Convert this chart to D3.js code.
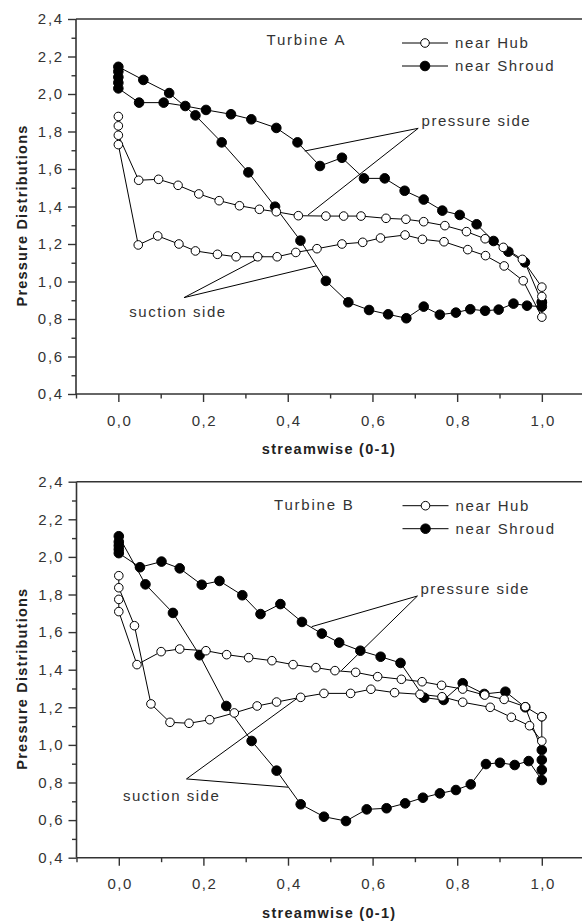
<!DOCTYPE html>
<html><head><meta charset="utf-8">
<script src="https://cdn.jsdelivr.net/npm/d3@7"></script>
<style>
html,body{margin:0;padding:0;background:#fff;}
svg{display:block;font-family:"Liberation Sans",Arial,sans-serif;}
</style></head>
<body><svg id="c" width="582" height="921"></svg>
<script>
// ---------- data (streamwise position, pressure) ----------
const xTicks = [0, 0.2, 0.4, 0.6, 0.8, 1.0];
const yTicks = [0.4, 0.6, 0.8, 1.0, 1.2, 1.4, 1.6, 1.8, 2.0, 2.2, 2.4];
const seriesNames = ["near Hub", "near Shroud"];
const xTitle = "streamwise (0-1)";
const yTitle = "Pressure Distributions";
const turbineNames = ["Turbine A", "Turbine B"];

// Turbine A
const hubPressureA = [[0,1.88],[0,1.83],[0,1.78],[0.048,1.54],[0.095,1.545],[0.141,1.513],[0.19,1.467],[0.238,1.431],[0.286,1.404],[0.333,1.385],[0.373,1.372],[0.425,1.351],[0.49,1.349],[0.532,1.349],[0.573,1.349],[0.632,1.337],[0.679,1.332],[0.721,1.319],[0.771,1.298],[0.822,1.266],[0.866,1.228],[0.909,1.182],[0.954,1.118],[1.0,0.97]];
const hubSuctionA = [[0,1.73],[0.047,1.195],[0.093,1.243],[0.143,1.2],[0.182,1.163],[0.234,1.145],[0.278,1.132],[0.329,1.132],[0.375,1.132],[0.419,1.155],[0.469,1.175],[0.528,1.2],[0.577,1.209],[0.619,1.232],[0.677,1.248],[0.718,1.225],[0.769,1.212],[0.825,1.17],[0.867,1.138],[0.911,1.083],[0.956,1.004],[1.0,0.81],[1.0,0.92]];
const shroudPressureA = [[0,2.03],[0.049,1.954],[0.107,1.954],[0.158,1.936],[0.207,1.915],[0.266,1.892],[0.314,1.865],[0.373,1.819],[0.423,1.742],[0.476,1.616],[0.528,1.66],[0.58,1.55],[0.629,1.55],[0.676,1.484],[0.721,1.437],[0.765,1.378],[0.806,1.355],[0.846,1.305],[0.886,1.216],[0.921,1.159],[0.96,1.102],[1.0,0.89]];
const shroudSuctionA = [[0,2.06],[0,2.09],[0,2.12],[0,2.145],[0.059,2.075],[0.12,2.005],[0.182,1.886],[0.244,1.742],[0.307,1.582],[0.37,1.399],[0.43,1.218],[0.49,1.003],[0.543,0.889],[0.592,0.848],[0.637,0.825],[0.68,0.804],[0.721,0.866],[0.759,0.823],[0.797,0.834],[0.831,0.852],[0.866,0.844],[0.898,0.85],[0.933,0.882],[0.965,0.871],[1.0,0.866],[1.0,0.89]];

// Turbine B
const hubPressureB = [[0,1.774],[0,1.709],[0.043,1.427],[0.10,1.496],[0.144,1.51],[0.206,1.501],[0.255,1.48],[0.307,1.464],[0.362,1.448],[0.412,1.427],[0.466,1.411],[0.511,1.395],[0.56,1.386],[0.612,1.363],[0.668,1.349],[0.717,1.336],[0.763,1.317],[0.813,1.297],[0.865,1.265],[0.911,1.242],[0.961,1.203],[1.0,1.15]];
const hubSuctionB = [[0,1.90],[0,1.836],[0.037,1.634],[0.076,1.218],[0.121,1.12],[0.166,1.115],[0.215,1.134],[0.273,1.17],[0.327,1.207],[0.373,1.228],[0.43,1.253],[0.485,1.274],[0.548,1.274],[0.596,1.296],[0.652,1.278],[0.712,1.269],[0.764,1.256],[0.813,1.227],[0.878,1.2],[0.928,1.147],[0.971,1.102],[1.0,1.02],[1.0,1.15]];
const shroudPressureB = [[0,2.02],[0.05,1.945],[0.101,1.975],[0.144,1.939],[0.196,1.852],[0.238,1.872],[0.292,1.796],[0.335,1.696],[0.382,1.749],[0.433,1.654],[0.48,1.592],[0.521,1.544],[0.571,1.501],[0.619,1.469],[0.666,1.436],[0.722,1.251],[0.768,1.239],[0.813,1.328],[0.864,1.271],[0.914,1.283],[0.961,1.2],[1.0,0.973]];
const shroudSuctionB = [[0,2.04],[0,2.06],[0,2.08],[0,2.11],[0.063,1.854],[0.128,1.702],[0.191,1.477],[0.254,1.207],[0.314,1.021],[0.373,0.863],[0.43,0.684],[0.485,0.618],[0.537,0.595],[0.586,0.657],[0.633,0.663],[0.677,0.689],[0.719,0.719],[0.759,0.742],[0.797,0.76],[0.832,0.79],[0.868,0.898],[0.901,0.905],[0.936,0.893],[0.969,0.914],[1.0,0.813],[1.0,0.867],[1.0,0.92]];

// annotations: [label, text anchor point, leader targets]
const annotA = [
  {label:"pressure side", at:[0.708,1.817], to:[[0.440,1.696],[0.448,1.355]], tx:[0.716,1.83]},
  {label:"suction side", at:[0.155,0.914], to:[[0.342,1.136],[0.468,1.084]], tx:[0.026,0.81]}
];
const annotB = [
  {label:"pressure side", at:[0.706,1.792], to:[[0.456,1.629],[0.526,1.395]], tx:[0.713,1.805]},
  {label:"suction side", at:[0.160,0.819], to:[[0.426,1.255],[0.400,0.775]], tx:[0.010,0.70]}
];

// ---------- drawing ----------
const svg = d3.select("#c");
const fmt = v => d3.format(".1f")(v).replace(".", ",");
const axisCol = "#333", textCol = "#333";

function panel(cfg){
  const x = d3.scaleLinear().domain([-0.1, 1.1]).range([cfg.left, cfg.left + 1.2*cfg.unitX]);
  const y = d3.scaleLinear().domain([0.4, 2.4]).range([cfg.bottom, cfg.top]);
  const g = svg.append("g");
  const W = 582;

  // frame top & bottom, left axis
  g.append("line").attr("x1", x(-0.1)).attr("x2", W).attr("y1", y(2.4)).attr("y2", y(2.4)).attr("stroke", axisCol).attr("stroke-width", 1.6);
  // x axis
  const xa = d3.axisBottom(x).tickValues(xTicks).tickFormat(fmt).tickSize(8).tickSizeOuter(0);
  const gx = g.append("g").attr("transform", `translate(0,${y(0.4)})`).call(xa);
  gx.select(".domain").remove();
  gx.append("line").attr("x1", x(-0.1)).attr("x2", W).attr("stroke", axisCol).attr("stroke-width", 1.6);
  const xm = d3.axisBottom(x).tickValues([-0.1,0.1,0.3,0.5,0.7,0.9]).tickFormat("").tickSize(4.5).tickSizeOuter(0);
  const gxm = g.append("g").attr("transform", `translate(0,${y(0.4)})`).call(xm);
  gxm.select(".domain").remove();
  [gx, gxm].forEach(a => a.selectAll(".tick line").attr("stroke", axisCol).attr("stroke-width", 1.4));
  gx.selectAll(".tick text").attr("y", 21).attr("dy", "0.71em").attr("font-size", 15).attr("fill", textCol)
    .style("letter-spacing", "1.5px").attr("dx", 0.75);

  // y axis
  const ya = d3.axisLeft(y).tickValues(yTicks).tickFormat(fmt).tickSize(8).tickSizeOuter(0);
  const gy = g.append("g").attr("transform", `translate(${x(-0.1)},0)`).call(ya);
  gy.select(".domain").remove();
  gy.append("line").attr("y1", y(2.4)).attr("y2", y(0.4)).attr("stroke", axisCol).attr("stroke-width", 1.6);
  const yMinor = d3.range(0.5, 2.4, 0.2).map(v => +v.toFixed(1));
  const ym = d3.axisLeft(y).tickValues(yMinor).tickFormat("").tickSize(4.5).tickSizeOuter(0);
  const gym = g.append("g").attr("transform", `translate(${x(-0.1)},0)`).call(ym);
  gym.select(".domain").remove();
  [gy, gym].forEach(a => a.selectAll(".tick line").attr("stroke", axisCol).attr("stroke-width", 1.4));
  gy.selectAll(".tick text").attr("x", -12).attr("font-size", 15).attr("fill", textCol)
    .style("letter-spacing", "1.8px");

  // titles
  g.append("text").attr("x", (x(-0.1) + W)/2).attr("y", y(0.4) + 60).attr("text-anchor", "middle")
    .attr("font-size", 14.5).attr("font-weight", "bold").attr("fill", "#222").style("letter-spacing", "1.3px")
    .text(xTitle);
  const cy = (y(0.4) + y(2.4))/2 + 9;
  g.append("text").attr("transform", `translate(27,${cy}) rotate(-90)`).attr("text-anchor", "middle")
    .attr("font-size", 14.5).attr("font-weight", "bold").attr("fill", "#222").style("letter-spacing", "1.2px")
    .text(yTitle);

  // turbine label
  g.append("text").attr("x", cfg.labelX).attr("y", cfg.labelY).attr("font-size", 15).attr("fill", textCol)
    .style("letter-spacing", "1.8px").text(cfg.name);

  // annotations
  cfg.annot.forEach(a => {
    a.to.forEach(t => {
      g.append("line").attr("x1", x(a.at[0])).attr("y1", y(a.at[1])).attr("x2", x(t[0])).attr("y2", y(t[1]))
        .attr("stroke", "#000").attr("stroke-width", 1);
    });
    g.append("text").attr("x", x(a.tx[0])).attr("y", y(a.tx[1])).attr("font-size", 15).attr("fill", textCol)
      .style("letter-spacing", "1.5px").text(a.label);
  });

  // series
  const line = d3.line().x(d => x(d[0])).y(d => y(d[1]));
  const drawSeries = (data, filled) => {
    g.append("path").datum(data).attr("d", line).attr("fill", "none").attr("stroke", "#000").attr("stroke-width", 1);
    g.selectAll(null).data(data).enter().append("circle")
      .attr("cx", d => x(d[0])).attr("cy", d => y(d[1]))
      .attr("r", filled ? 4.8 : 4.3)
      .attr("fill", filled ? "#000" : "#fff").attr("stroke", "#000").attr("stroke-width", 1);
  };
  drawSeries(cfg.shroudP, true);
  drawSeries(cfg.shroudS, true);
  drawSeries(cfg.hubP, false);
  drawSeries(cfg.hubS, false);

  // legend
  const lx1 = cfg.left + 326, lx2 = cfg.left + 372;
  seriesNames.forEach((nm, i) => {
    const ly = cfg.top + 24 + i*23;
    g.append("line").attr("x1", lx1).attr("x2", lx2).attr("y1", ly).attr("y2", ly).attr("stroke", "#000").attr("stroke-width", 1);
    g.append("circle").attr("cx", (lx1+lx2)/2).attr("cy", ly).attr("r", i ? 4.8 : 4.3)
      .attr("fill", i ? "#000" : "#fff").attr("stroke", "#000");
    g.append("text").attr("x", lx2 + 7).attr("y", ly).attr("dy", "0.36em").attr("font-size", 15).attr("fill", textCol)
      .style("letter-spacing", "1.6px").text(nm);
  });
}

panel({left:76, top:19, bottom:394, unitX:423.5, name:turbineNames[0], labelX:266.5, labelY:45,
  hubP:hubPressureA, hubS:hubSuctionA, shroudP:shroudPressureA, shroudS:shroudSuctionA, annot:annotA});
panel({left:76.5, top:481.7, bottom:857.7, unitX:423, name:turbineNames[1], labelX:274, labelY:510,
  hubP:hubPressureB, hubS:hubSuctionB, shroudP:shroudPressureB, shroudS:shroudSuctionB, annot:annotB});
</script>
</body></html>
